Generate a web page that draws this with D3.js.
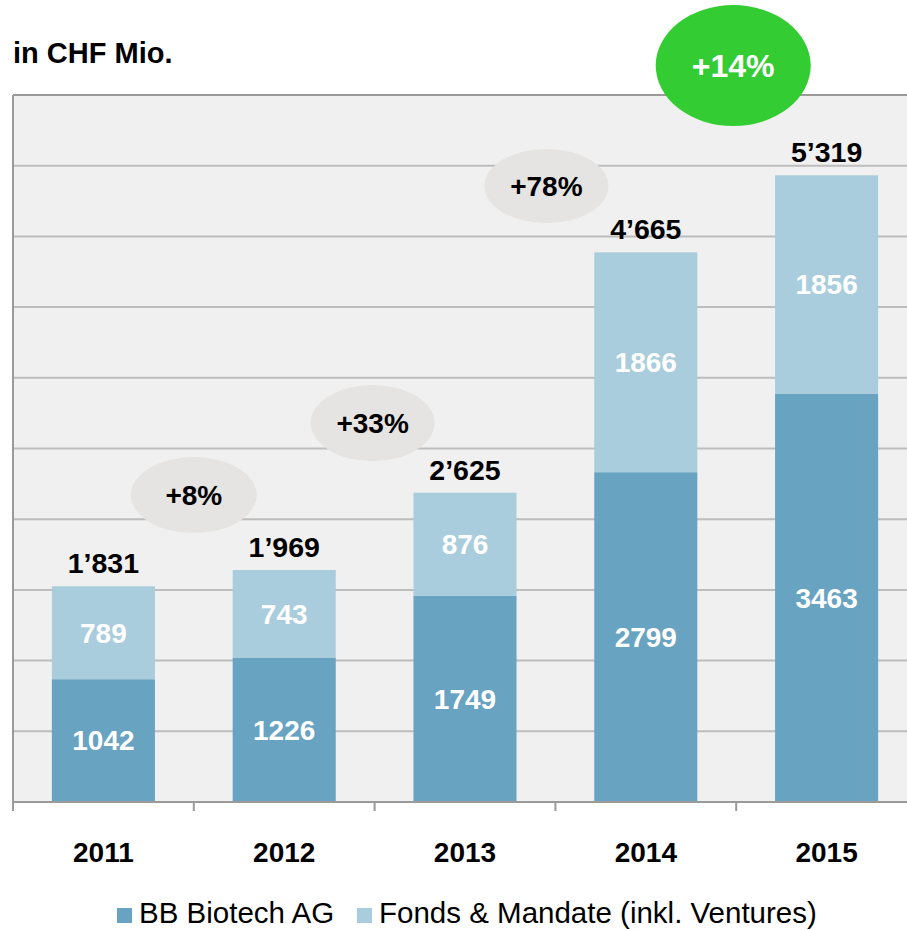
<!DOCTYPE html>
<html><head><meta charset="utf-8">
<script src="https://cdn.jsdelivr.net/npm/d3@7"></script>
<style>body{margin:0;background:#fff}svg{display:block}text{font-family:"Liberation Sans",Arial,sans-serif}</style>
</head><body>
<script>
const years = ["2011","2012","2013","2014","2015"];
const bbBiotech = [1042,1226,1749,2799,3463];
const fonds = [789,743,876,1866,1856];
const totalLabels = ["1\u2019831","1\u2019969","2\u2019625","4\u2019665","5\u2019319"];
const growthLabels = ["+8%","+33%","+78%","+14%"];
const seriesNames = ["BB Biotech AG","Fonds & Mandate (inkl. Ventures)"];
const yTicks = [0,600,1200,1800,2400,3000,3600,4200,4800,5400,6000];

(function(){
const W=907,H=930;
const colors=["#68a3c1","#a9cddc"];
const svg=d3.select("body").append("svg").attr("width",W).attr("height",H);

const pL=13,pR=917,pT=95,pB=802;
const y=d3.scaleLinear().domain([0,6000]).range([pB,pT]);
const xb=d3.scaleBand().domain(years).range([pL,pR]).padding(0);
const x=d3.scaleBand().domain(years).range([pL,pR]).paddingInner(0.43).paddingOuter(0.215);

// plot background
svg.append("rect").attr("x",pL).attr("y",pT).attr("width",W-pL).attr("height",pB-pT).attr("fill","#f0f0f0");

// gridlines
svg.append("g").selectAll("line").data(yTicks.slice(1,-1)).join("line")
  .attr("x1",pL).attr("x2",W).attr("y1",d=>y(d)).attr("y2",d=>y(d))
  .attr("stroke","#bdbdbd").attr("stroke-width",2);
svg.append("line").attr("x1",pL).attr("x2",W).attr("y1",y(6000)).attr("y2",y(6000)).attr("stroke","#9a9a9a").attr("stroke-width",2);

// bars
const stack=years.map((yr,i)=>({yr,a:bbBiotech[i],b:fonds[i]}));
const g=svg.append("g");
g.selectAll("rect.a").data(stack).join("rect").attr("class","a")
  .attr("x",d=>x(d.yr)).attr("width",x.bandwidth())
  .attr("y",d=>y(d.a)).attr("height",d=>y(0)-y(d.a)).attr("fill",colors[0]);
g.selectAll("rect.b").data(stack).join("rect").attr("class","b")
  .attr("x",d=>x(d.yr)).attr("width",x.bandwidth())
  .attr("y",d=>y(d.a+d.b)).attr("height",d=>y(d.a)-y(d.a+d.b)).attr("fill",colors[1]);

// inner labels
g.selectAll("text.la").data(stack).join("text").attr("class","la")
  .attr("x",d=>x(d.yr)+x.bandwidth()/2).attr("y",d=>(y(0)+y(d.a))/2).attr("dy","0.35em")
  .attr("text-anchor","middle").attr("fill","#fff").attr("font-weight","bold").attr("font-size",28).text(d=>d.a);
g.selectAll("text.lb").data(stack).join("text").attr("class","lb")
  .attr("x",d=>x(d.yr)+x.bandwidth()/2).attr("y",d=>(y(d.a)+y(d.a+d.b))/2).attr("dy","0.35em")
  .attr("text-anchor","middle").attr("fill","#fff").attr("font-weight","bold").attr("font-size",28).text(d=>d.b);
// totals
g.selectAll("text.tot").data(stack).join("text").attr("class","tot")
  .attr("x",d=>x(d.yr)+x.bandwidth()/2).attr("y",d=>y(d.a+d.b)-13)
  .attr("text-anchor","middle").attr("fill","#000").attr("font-weight","bold").attr("font-size",28.5)
  .text((d,i)=>totalLabels[i]);

// axes
svg.append("line").attr("x1",pL).attr("x2",pL).attr("y1",pT).attr("y2",pB).attr("stroke","#9a9a9a").attr("stroke-width",2);
const xAxis=d3.axisBottom(xb).tickSize(0).tickPadding(40);
const ax=svg.append("g").attr("transform",`translate(0,${pB})`).call(xAxis);
ax.select(".domain").attr("d",`M${pL},0H${W}`).attr("stroke","#9a9a9a").attr("stroke-width",2);
ax.selectAll("text").attr("font-size",28).attr("font-weight","bold").attr("fill","#000").attr("font-family","'Liberation Sans',Arial,sans-serif");
svg.append("g").selectAll("line").data(years).join("line")
  .attr("x1",d=>xb(d)).attr("x2",d=>xb(d)).attr("y1",pB).attr("y2",pB+9)
  .attr("stroke","#9a9a9a").attr("stroke-width",2);

// growth bubbles
const bubbles=[
 {cx:xb("2012"),cy:y(2605),rx:63,ry:38,fill:"#e5e4e2",color:"#000",fs:28},
 {cx:xb("2013")-2,cy:y(3216),rx:62,ry:38,fill:"#e5e4e2",color:"#000",fs:28},
 {cx:xb("2014")-9,cy:y(5228),rx:62,ry:37,fill:"#e5e4e2",color:"#000",fs:28},
 {cx:xb("2015")-3,cy:y(6250),rx:77.5,ry:60.5,fill:"#33cc33",color:"#fff",fs:32}
];
const bg=svg.append("g").selectAll("g").data(bubbles).join("g");
bg.append("ellipse").attr("cx",d=>d.cx).attr("cy",d=>d.cy).attr("rx",d=>d.rx).attr("ry",d=>d.ry).attr("fill",d=>d.fill);
bg.append("text").attr("x",d=>d.cx).attr("y",d=>d.cy).attr("dy","0.37em").attr("text-anchor","middle")
  .attr("font-weight","bold").attr("font-size",d=>d.fs).attr("fill",d=>d.color).text((d,i)=>growthLabels[i]);

// title
svg.append("text").attr("x",13).attr("y",63).attr("font-weight","bold").attr("font-size",29).text("in CHF Mio.");

// legend
const lg=svg.append("g");
const legX=[117,357];
seriesNames.forEach((n,i)=>{
  lg.append("rect").attr("x",legX[i]).attr("y",908).attr("width",15).attr("height",15).attr("fill",colors[i]);
  lg.append("text").attr("x",legX[i]+22).attr("y",923).attr("font-size",29.5).attr("fill","#000").text(n);
});
})();
</script>
</body></html>
